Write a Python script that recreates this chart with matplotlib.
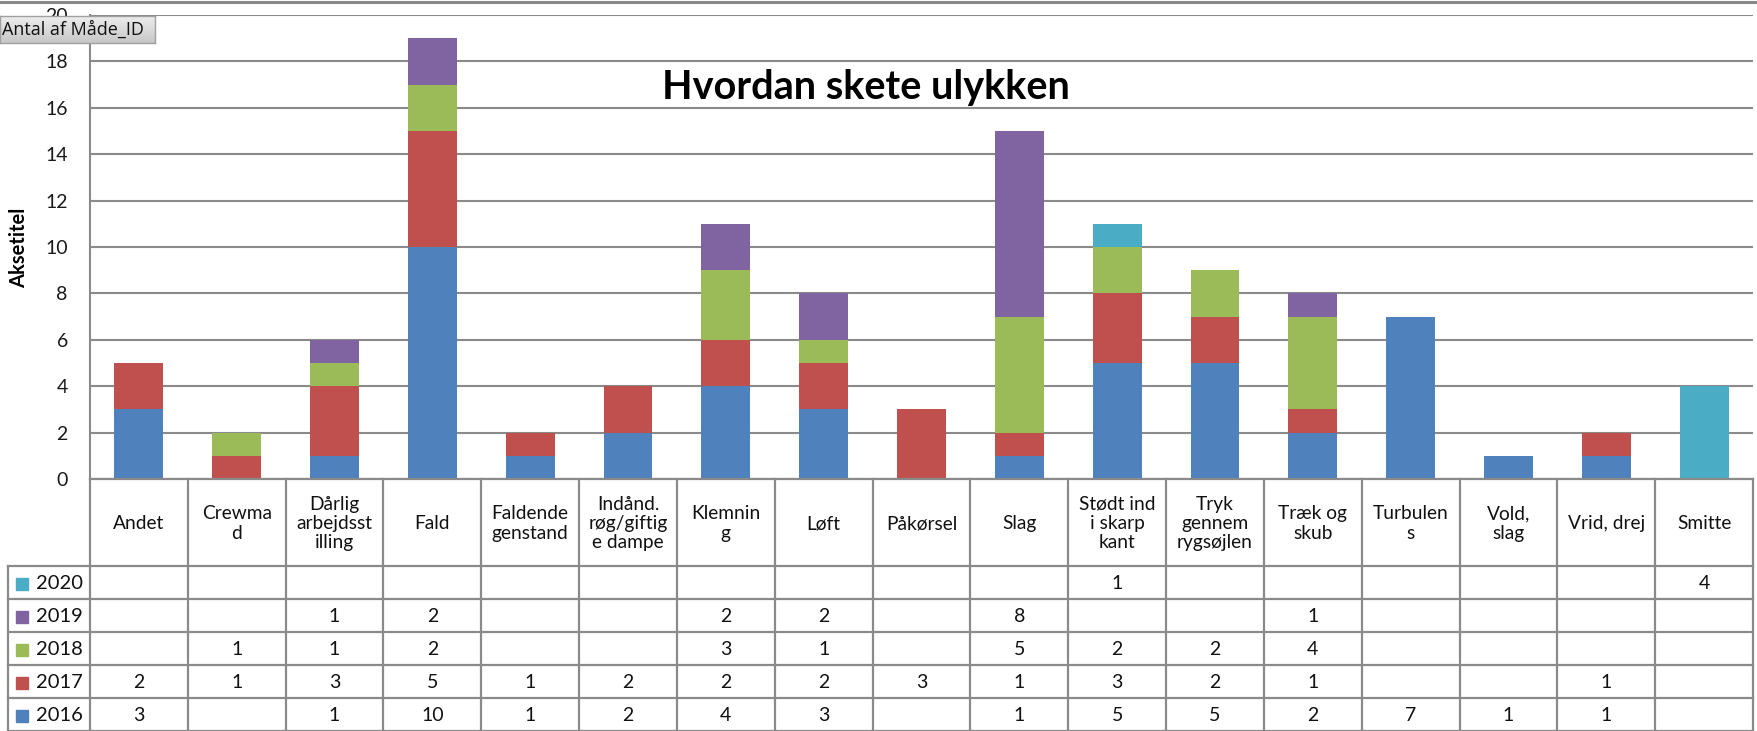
import matplotlib
matplotlib.use("Agg")
import matplotlib.pyplot as plt
from matplotlib.patches import Rectangle
from matplotlib.lines import Line2D
import numpy as np

plt.rcParams['font.family'] = ['Lato', 'DejaVu Sans']

categories = ["Andet", "Crewmad", "Dårlig arbejdsstilling", "Fald", "Faldende genstand",
              "Indånd. røg/giftige dampe", "Klemning", "Løft", "Påkørsel", "Slag",
              "Stødt ind i skarp kant", "Tryk gennem rygsøjlen", "Træk og skub",
              "Turbulens", "Vold, slag", "Vrid, drej", "Smitte"]
header_labels = ["Andet", "Crewma\nd", "Dårlig\narbejdsst\nilling", "Fald", "Faldende\ngenstand",
                 "Indånd.\nrøg/giftig\ne dampe", "Klemnin\ng", "Løft", "Påkørsel", "Slag",
                 "Stødt ind\ni skarp\nkant", "Tryk\ngennem\nrygsøjlen", "Træk og\nskub",
                 "Turbulen\ns", "Vold,\nslag", "Vrid, drej", "Smitte"]
years = ["2016", "2017", "2018", "2019", "2020"]
v2016 = [3, 0, 1, 10, 1, 2, 4, 3, 0, 1, 5, 5, 2, 7, 1, 1, 0]
v2017 = [2, 1, 3, 5, 1, 2, 2, 2, 3, 1, 3, 2, 1, 0, 0, 1, 0]
v2018 = [0, 1, 1, 2, 0, 0, 3, 1, 0, 5, 2, 2, 4, 0, 0, 0, 0]
v2019 = [0, 0, 1, 2, 0, 0, 2, 2, 0, 8, 0, 0, 1, 0, 0, 0, 0]
v2020 = [0, 0, 0, 0, 0, 0, 0, 0, 0, 0, 1, 0, 0, 0, 0, 0, 4]
series = [v2016, v2017, v2018, v2019, v2020]
colors = ["#4F81BD", "#C0504D", "#9BBB59", "#8064A2", "#4BACC6"]

title = "Hvordan skete ulykken"
ylabel = "Aksetitel"
button_text = "Antal af Måde_ID"
yticks = [0, 2, 4, 6, 8, 10, 12, 14, 16, 18, 20]

W, H = 1757, 731
L, R, TOP, BOT = 90, 1753, 15, 479
GRID = "#8a8a8a"

fig = plt.figure(figsize=(W / 100, H / 100), dpi=100)
fig.patch.set_facecolor("white")

ax = fig.add_axes([L / W, (H - BOT) / H, (R - L) / W, (BOT - TOP) / H])
n = len(categories)
x = np.arange(n)
bottom = np.zeros(n)
for vals, col in zip(series, colors):
    v = np.array(vals, dtype=float)
    ax.bar(x, v, width=0.5, bottom=bottom, color=col, zorder=3, linewidth=0)
    bottom += v
ax.set_xlim(-0.5, n - 0.5)
ax.set_ylim(0, 20)
ax.set_yticks(yticks)
ax.set_xticks([])
ax.yaxis.grid(True, color=GRID, linewidth=1.5, zorder=0)
ax.set_axisbelow(True)
for s in ["top", "right", "bottom"]:
    ax.spines[s].set_visible(False)
ax.spines["left"].set_color(GRID)
ax.spines["left"].set_linewidth(1.5)
ax.tick_params(axis="y", length=0, pad=16, labelsize=14, labelcolor="#1a1a1a")
for lab in ax.get_yticklabels():
    lab.set_clip_on(False)

ax.set_ylabel(ylabel, fontsize=14.5, fontweight="bold", labelpad=0)
ax.yaxis.set_label_coords(-(L - 29) / (R - L), (BOT - 248) / (BOT - TOP))

fig.text(866 / W, 1 - 87 / H, title, ha="center", va="center", fontsize=28.5,
         fontweight="bold", color="black")

# data table
axt = fig.add_axes([L / W, 0, (R - L) / W, (H - BOT) / H])
axt.set_xlim(-0.5, n - 0.5)
axt.set_ylim(H, BOT)
axt.axis("off")
HDR = 566
ROWH = 33
rows_top = [HDR + ROWH * i for i in range(6)]
colw = (R - L) / n
legend_left = -0.5 - (L - 8) / colw
lw = 1.6
axt.plot([-0.5, n - 0.5], [BOT, BOT], color=GRID, lw=lw, clip_on=False, zorder=2)
for yy in rows_top:
    axt.plot([legend_left, n - 0.5], [yy, yy], color=GRID, lw=lw, clip_on=False, zorder=2)
for k in range(n + 1):
    axt.plot([k - 0.5, k - 0.5], [BOT, H + 5], color=GRID, lw=lw, clip_on=False, zorder=2)
axt.plot([legend_left, legend_left], [HDR, H + 5], color=GRID, lw=lw, clip_on=False, zorder=2)

for i, lab in enumerate(header_labels):
    axt.text(i, (BOT + HDR) / 2 + 1, lab, ha="center", va="center", fontsize=13.8,
             linespacing=1.15, color="#111111", clip_on=False)

row_order = [4, 3, 2, 1, 0]
for r, si in enumerate(row_order):
    yc = rows_top[r] + ROWH / 2 + 1
    axt.add_patch(Rectangle((legend_left + 8 / colw, yc - 6), 12 / colw, 12,
                            color=colors[si], clip_on=False, zorder=3))
    axt.text(legend_left + 28 / colw, yc, years[si], ha="left", va="center", fontsize=14.5,
             color="#111111", clip_on=False)
    for i in range(n):
        val = series[si][i]
        if val:
            axt.text(i, yc, str(val), ha="center", va="center", fontsize=14,
                     color="#111111", clip_on=False)

# top border line
fig.add_artist(Line2D([0, 1], [1 - 2 / H, 1 - 2 / H], color="#888888", lw=2.2))

# pivot field button with gradient
bx0, by0, bx1, by1 = 0, 16, 155, 43
axb = fig.add_axes([bx0 / W, 1 - by1 / H, (bx1 - bx0) / W, (by1 - by0) / H], zorder=10)
grad = np.linspace(0.93, 0.78, 64).reshape(-1, 1)
axb.imshow(np.dstack([grad, grad, grad]), aspect="auto", extent=[0, 1, 0, 1], origin="upper")
axb.set_xlim(0, 1)
axb.set_ylim(0, 1)
axb.set_xticks([])
axb.set_yticks([])
for s in axb.spines.values():
    s.set_color("#a0a0a0")
    s.set_linewidth(1)
axb.text(0.015, 0.5, button_text, ha="left", va="center", fontsize=13,
         family=["Open Sans", "DejaVu Sans"], color="#111111", transform=axb.transAxes)

fig.savefig("out.png", dpi=100)
